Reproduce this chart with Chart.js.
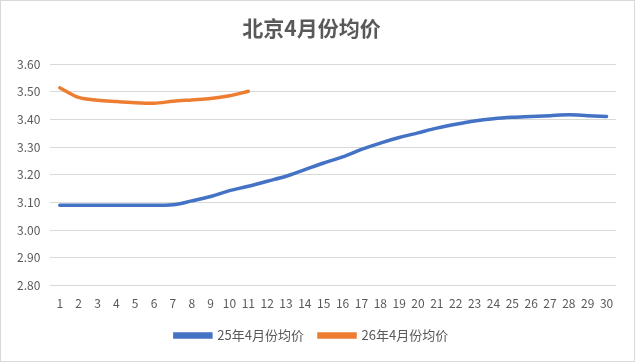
<!DOCTYPE html>
<html>
<head>
<meta charset="utf-8">
<script src="https://cdn.jsdelivr.net/npm/chart.js@4"></script>
<style>
    html, body { margin: 0; padding: 0; background: #fff; }
    #wrap { width: 635px; height: 362px; box-sizing: border-box; border: 1px solid #d9d9d9; }
</style>
</head>
<body>
<div id="wrap"><canvas id="chart" width="633" height="360"></canvas></div>
<script>
// 数据
const days = Array.from({ length: 30 }, (_, i) => String(i + 1));
const price25 = [3.09, 3.09, 3.09, 3.09, 3.09, 3.09, 3.092, 3.106, 3.122, 3.143,
                 3.159, 3.177, 3.195, 3.219, 3.243, 3.265, 3.292, 3.315, 3.335, 3.352,
                 3.369, 3.383, 3.395, 3.403, 3.408, 3.411, 3.414, 3.417, 3.414, 3.411];
const price26 = [3.515, 3.48, 3.47, 3.465, 3.461, 3.459, 3.466, 3.471, 3.476, 3.486, 3.502];
const seriesNames = ['25年4月份均价', '26年4月份均价'];

const font = '"Noto Sans CJK SC", "Noto Sans", sans-serif';
const textColor = '#595959';

new Chart(document.getElementById('chart'), {
    type: 'line',
    data: {
        labels: days,
        datasets: [
            { label: seriesNames[0], data: price25, borderColor: '#4472C4', backgroundColor: '#4472C4' },
            { label: seriesNames[1], data: price26, borderColor: '#ED7D31', backgroundColor: '#ED7D31' }
        ]
    },
    options: {
        responsive: false,
        animation: false,
        layout: { padding: { left: 6, right: 18, top: 0, bottom: 9 } },
        elements: {
            line: { borderWidth: 3.5, cubicInterpolationMode: 'monotone', borderCapStyle: 'round' },
            point: { radius: 0 }
        },
        plugins: {
            title: {
                display: true,
                text: '北京4月份均价',
                color: textColor,
                font: { family: font, size: 21, weight: 'bold' },
                padding: { top: 14, bottom: 24 }
            },
            legend: {
                position: 'bottom',
                labels: {
                    color: textColor,
                    font: { family: font, size: 13 },
                    boxWidth: 36,
                    boxHeight: 3,
                    padding: 15
                }
            },
            tooltip: { enabled: false }
        },
        scales: {
            x: {
                offset: true,
                grid: { display: false },
                border: { display: false },
                ticks: { color: textColor, font: { family: font, size: 12 }, maxRotation: 0, autoSkip: false, padding: 3 }
            },
            y: {
                min: 2.8,
                max: 3.6,
                grid: { color: '#d9d9d9', drawTicks: false },
                border: { display: false },
                ticks: {
                    stepSize: 0.1,
                    color: textColor,
                    font: { family: font, size: 12 },
                    padding: 10,
                    callback: v => v.toFixed(2)
                }
            }
        }
    }
});
</script>
</body>
</html>
